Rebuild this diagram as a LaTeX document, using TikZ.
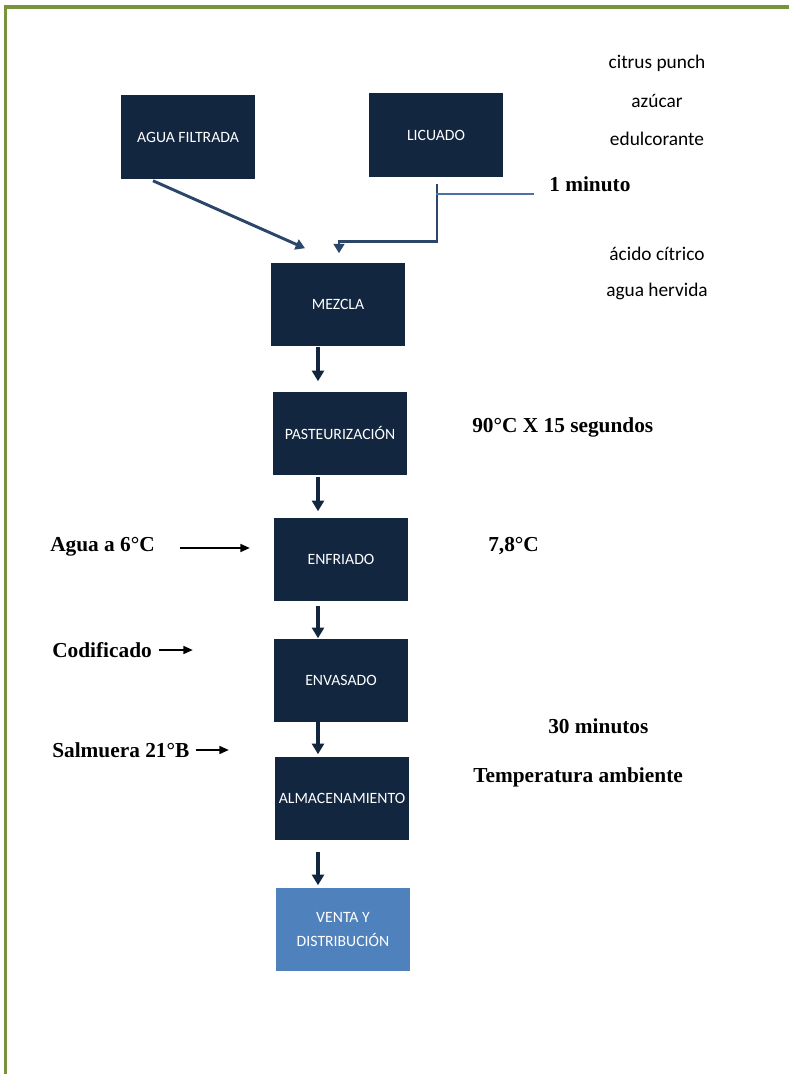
\documentclass[tikz,border=0pt]{standalone}
\usepackage{fontspec}
\setmainfont{Liberation Serif}
\newfontfamily\calibfont{Carlito}
\usetikzlibrary{arrows.meta}
\usetikzlibrary{calc}
\definecolor{cajaazul}{HTML}{13263F}
\definecolor{cajaclara}{HTML}{4F81BD}
\definecolor{lineaazul}{HTML}{2B4668}
\definecolor{minazul}{HTML}{4A72A6}
\definecolor{marcoverde}{HTML}{77933C}

\begin{document}
\begin{tikzpicture}[x=0.75pt,y=0.75pt,yscale=-1,xscale=1,
  caja/.style={fill=cajaazul,text=white,minimum width=100.5pt,minimum height=62.25pt,inner sep=0pt,align=center,font=\calibfont\fontsize{11.8}{18}\selectfont},
  flujo/.style={draw=cajaazul,line width=3pt,-{Triangle[width=9pt,length=8pt]}},
  entrada/.style={draw=lineaazul,line width=2.2pt,-{Triangle[width=8pt,length=7pt]}},
  flecha/.style={draw=black,line width=1.2pt,-{Triangle[width=6pt,length=7pt]}},
  dato/.style={anchor=west,inner sep=0pt,font=\bfseries\fontsize{16}{19}\selectfont},
  lista/.style={inner sep=0pt,font=\calibfont\fontsize{14.5}{17}\selectfont}]
\useasboundingbox (0,0) rectangle (789,1074);
%Frame
\draw [marcoverde,line width=2.5pt] (789,7) -- (5.5,7) -- (5.5,1074) ;
%Process boxes
\node [caja] (agua) at (188,137) {AGUA FILTRADA};
\node [caja] (licuado) at (436,135) {LICUADO};
\node [caja] (mezcla) at (338,304) {MEZCLA};
\node [caja] (pasteur) at (340,433) {PASTEURIZACIÓN};
\node [caja] (enfriado) at (341,559) {ENFRIADO};
\node [caja] (envasado) at (341,680) {ENVASADO};
\node [caja] (almacen) at (342,798) {ALMACENAMIENTO};
\node [caja,fill=cajaclara] (venta) at (343,929) {VENTA Y\\DISTRIBUCIÓN};
%Straight Lines
\draw [entrada] ($(agua.south)+(-35,2)$) -- ($(mezcla.north)+(-33,-14)$) ;
\draw [entrada] ($(licuado.south)+(1,7)$) -- ++(0,58) -| ($(mezcla.north)+(1,-9)$) ;
\coordinate (minfin) at (534,194) ;
\draw [minazul,line width=1.6pt] (licuado.south |- minfin) -- (minfin) ;
\draw [flujo] ($(mezcla.south)+(-20,1)$) -- ($(pasteur.north)+(-22,-10)$) ;
\draw [flujo] ($(pasteur.south)+(-22,2)$) -- ($(enfriado.north)+(-23,-6)$) ;
\draw [flujo] ($(enfriado.south)+(-23,5)$) -- ($(envasado.north)+(-23,0)$) ;
\draw [flujo] ($(envasado.south)+(-23,0)$) -- ($(almacen.north)+(-24,-2)$) ;
\draw [flujo] ($(almacen.south)+(-24,12)$) -- ($(venta.north)+(-25,-2)$) ;
% Text Node
\node [dato] (minuto) at (549,184) {1 minuto};
\node [lista] (citrus) at (657,63) {citrus punch};
\node [lista] (azucar) at (657,101) {azúcar};
\node [lista] (edulc) at (657,139) {edulcorante};
\node [lista] (acido) at (657,254) {ácido cítrico};
\node [lista] (hervida) at (657,291) {agua hervida};
\node [dato] (tiempo) at (472,427) {90°C X 15 segundos};
\node [dato] (temp) at (488,546) {7,8°C};
\node [dato] (treinta) at (548,726) {30 minutos};
\node [dato] (ambiente) at (473,777) {Temperatura ambiente};
\node [dato] (agua6) at (50,547) {Agua a 6°C};
\node [dato] (codif) at (52,650) {Codificado};
\node [dato] (salm) at (52,750) {Salmuera 21°B};
%Side arrows
\draw [flecha] ($(enfriado.west)+(-94,-11)$) -- ($(enfriado.west)+(-24,-11)$) ;
\draw [flecha] ($(envasado.west)+(-115,-30)$) -- ($(envasado.west)+(-81,-30)$) ;
\draw [flecha] ($(almacen.west)+(-79,-48)$) -- ($(almacen.west)+(-46,-48)$) ;
\end{tikzpicture}
\end{document}
